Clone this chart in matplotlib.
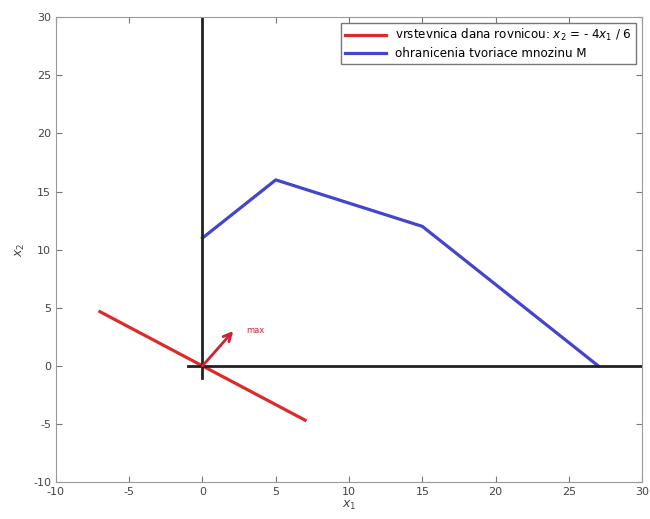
import matplotlib
matplotlib.use("Agg")
import matplotlib.pyplot as plt

plt.rcParams["axes.unicode_minus"] = False

# data
level_x = [-7, 7]
level_y = [28 / 6, -28 / 6]
bound_x = [0, 5, 15, 27]
bound_y = [11, 16, 12, 0]
vert_axis_x = [0, 0]
vert_axis_y = [-1, 30]
horiz_axis_x = [-1, 30]
horiz_axis_y = [0, 0]
grad_tip = (2.1, 3.0)
xticks = list(range(-10, 31, 5))
yticks = list(range(-10, 31, 5))

fig = plt.figure(figsize=(6.5, 5.19), dpi=100)
ax = fig.add_axes([0.086, 0.071, 0.902, 0.896])

ax.plot(level_x, level_y, color="#dd2a2a", lw=2.3,
        label="vrstevnica dana rovnicou: $x_2$ = - 4$x_1$ / 6")
ax.plot(bound_x, bound_y, color="#4444cc", lw=2.3,
        label="ohranicenia tvoriace mnozinu M")
ax.plot(vert_axis_x, vert_axis_y, color="#222222", lw=2)
ax.plot(horiz_axis_x, horiz_axis_y, color="#222222", lw=2)

ax.annotate("", xy=grad_tip, xytext=(0, 0),
            arrowprops=dict(arrowstyle="->", color="#cc2233", lw=2,
                            mutation_scale=14, shrinkA=0, shrinkB=0))
ax.text(3.0, 2.8, "max", color="#cc2233", fontsize=6)

ax.set_xlim(-10, 30)
ax.set_ylim(-10, 30)
ax.set_xticks(xticks)
ax.set_yticks(yticks)
ax.tick_params(labelsize=8, direction="in", length=4, top=True, right=True,
               colors="#777777", labelcolor="#444444")
for s in ax.spines.values():
    s.set_color("#999999")
ax.set_xlabel("$x_1$", fontsize=9, labelpad=1, color="#444444")
ax.set_ylabel("$x_2$", fontsize=9, labelpad=4, color="#444444")

leg = ax.legend(loc="upper right", fontsize=8.6, fancybox=False,
                framealpha=1, edgecolor="#777777", handlelength=3.4,
                borderaxespad=0.5, labelspacing=0.3, borderpad=0.35)

fig.savefig("out.png", dpi=100)
